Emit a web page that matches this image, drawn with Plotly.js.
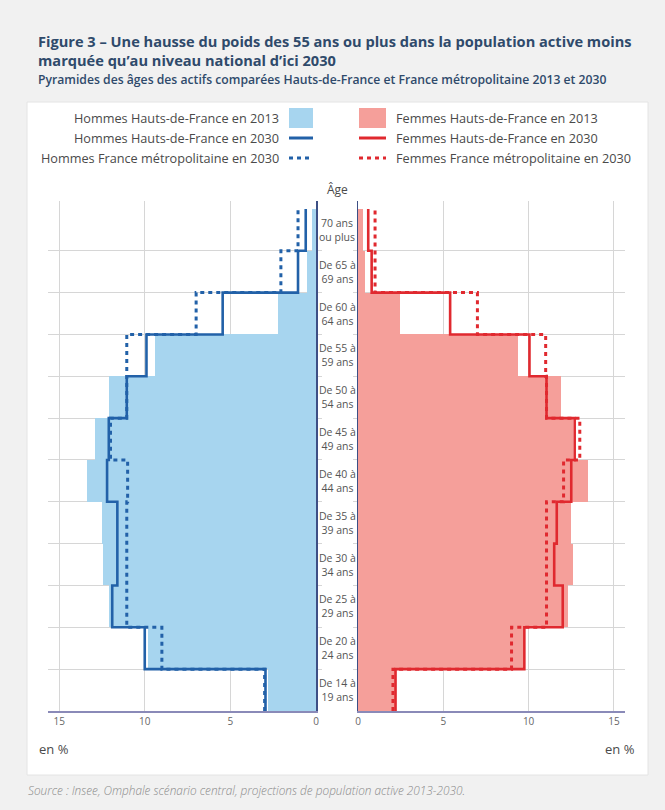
<!DOCTYPE html>
<html>
<head>
<meta charset="utf-8">
<script src="https://cdn.plot.ly/plotly-3.0.1.min.js"></script>
<style>html,body{margin:0;padding:0;background:#f1f1f1;}#chart{width:665px;height:810px;}</style>
</head>
<body>
<div id="chart"></div>
<script>
// Age groups, youngest (bottom) to oldest (top)
const categories = ["De 14 à<br>19 ans","De 20 à<br>24 ans","De 25 à<br>29 ans","De 30 à<br>34 ans","De 35 à<br>39 ans","De 40 à<br>44 ans","De 45 à<br>49 ans","De 50 à<br>54 ans","De 55 à<br>59 ans","De 60 à<br>64 ans","De 65 à<br>69 ans","70 ans<br>ou plus"];
// Values in % of the active population
const hommesHdF2013 = [2.8, 9.8, 12.1, 12.45, 12.5, 13.4, 12.9, 12.1, 9.4, 2.2, 0.5, 0.25];
const hommesHdF2030 = [2.95, 10.0, 11.9, 11.6, 11.6, 12.2, 12.1, 11.05, 9.9, 5.45, 1.05, 0.6];
const hommesFM2030  = [3.0, 9.0, 11.05, 11.05, 11.05, 11.0, 12.0, 11.05, 11.05, 7.0, 2.05, 1.05];
const femmesHdF2013 = [2.15, 9.7, 12.3, 12.6, 12.5, 13.5, 12.6, 11.9, 9.4, 2.45, 0.4, 0.3];
const femmesHdF2030 = [2.2, 9.75, 12.0, 11.5, 11.65, 12.5, 12.7, 11.05, 10.05, 5.4, 0.8, 0.6];
const femmesFM2030  = [2.05, 9.0, 11.05, 11.05, 11.05, 12.05, 13.0, 11.05, 11.0, 7.0, 1.0, 1.0];
const xTicks = [0, 5, 10, 15];
const legendHommes = ["Hommes Hauts-de-France en 2013","Hommes Hauts-de-France en 2030","Hommes France métropolitaine en 2030"];
const legendFemmes = ["Femmes Hauts-de-France en 2013","Femmes Hauts-de-France en 2030","Femmes France métropolitaine en 2030"];
const title = "Figure 3 – Une hausse du poids des 55 ans ou plus dans la population active moins<br>marquée qu’au niveau national d’ici 2030";
const subtitle = "Pyramides des âges des actifs comparées Hauts-de-France et France métropolitaine 2013 et 2030";
const source = "Source : Insee, Omphale scénario central, projections de population active 2013-2030.";

const W = 665, H = 810;
const fx = p => p / W;
const fy = p => 1 - p / H;

const BLUE_FILL = '#a7d5ef', BLUE = '#2261a8';
const PINK_FILL = '#f59f9a', RED = '#e0292f';
const TXT = '#4a4a4a';
const TITLE_C = '#2f4a6b';
const FONT = 'Open Sans, Noto Sans, sans-serif';

const idx = categories.map((c, i) => i);
function stepX(vals){ const out=[]; vals.forEach(v=>{out.push(v,v);}); return out; }
function stepY(n){ const out=[]; for(let i=0;i<n;i++){out.push(i-0.5,i+0.5);} return out; }

function bar(vals, color, xa, ya){
  return {type:'bar', orientation:'h', y:idx, x:vals, width:1, xaxis:xa, yaxis:ya,
    marker:{color:color, line:{width:0}}, hoverinfo:'skip', showlegend:false};
}
function step(vals, color, dash, xa, ya){
  return {type:'scatter', mode:'lines', x:stepX(vals), y:stepY(vals.length), xaxis:xa, yaxis:ya,
    line:{color:color, width:dash ? 3 : 2.6, dash:dash || 'solid'}, hoverinfo:'skip', showlegend:false};
}

const data = [
  bar(hommesHdF2013, BLUE_FILL, 'x', 'y'),
  bar(femmesHdF2013, PINK_FILL, 'x2', 'y2'),
  step(hommesHdF2030, BLUE, null, 'x', 'y'),
  step(hommesFM2030, BLUE, '4px,4px', 'x', 'y'),
  step(femmesHdF2030, RED, null, 'x2', 'y2'),
  step(femmesFM2030, RED, '4px,4px', 'x2', 'y2')
];

const gridVals = idx.slice(0, -1).map(i => i + 0.5);
const yRange = [-0.5, 11.69];
const yDomain = [fy(711), fy(201)];

const xCommon = {
  tickvals: xTicks, ticktext: xTicks.map(String), showgrid: true, gridcolor: '#d6d6d6', gridwidth: 1,
  zeroline: false, showline: true, linecolor: '#8a8ab8', linewidth: 2, ticks: '',
  tickfont: {family: FONT, size: 10, color: '#666'}, fixedrange: true
};
const yCommon = {
  range: yRange, domain: yDomain, tickvals: gridVals, showticklabels: false, showgrid: true,
  gridcolor: '#d6d6d6', gridwidth: 1, zeroline: false, showline: true, linecolor: '#3d4f85', linewidth: 1.5,
  ticks: 'outside', ticklen: 4, tickcolor: '#d6d6d6', fixedrange: true
};

const annotations = [];
// Titles
annotations.push({xref:'paper', yref:'paper', x:fx(36), y:fy(50), xanchor:'left', yanchor:'middle',
  showarrow:false, align:'left', text:title, font:{family:FONT, size:14.6, weight:700, color:TITLE_C}});
annotations.push({xref:'paper', yref:'paper', x:fx(36), y:fy(79), xanchor:'left', yanchor:'middle', showarrow:false, align:'left',
  text:subtitle, font:{family:FONT, size:12.2, weight:600, color:TITLE_C}});
// Legend text
const legY = [118, 138, 158];
legendHommes.forEach((t, k) => annotations.push({xref:'paper', yref:'paper', x:fx(281), y:fy(legY[k]), xanchor:'right', yanchor:'middle',
  showarrow:false, text:t, font:{family:FONT, size:12.7, color:TXT}}));
legendFemmes.forEach((t, k) => annotations.push({xref:'paper', yref:'paper', x:fx(394), y:fy(legY[k]), xanchor:'left', yanchor:'middle',
  showarrow:false, text:t, font:{family:FONT, size:12.7, color:TXT}}));
// Age header
annotations.push({xref:'paper', yref:'paper', x:fx(337), y:fy(189), xanchor:'center', yanchor:'middle', showarrow:false,
  text:'Âge', font:{family:FONT, size:12, color:TXT}});
// Category labels
categories.forEach((c, i) => annotations.push({xref:'paper', yref:'y', x:fx(337), y:i, xanchor:'center', yanchor:'middle',
  showarrow:false, align:'center', text:c, font:{family:FONT, size:10.5, color:'#555'}}));
// Units
annotations.push({xref:'paper', yref:'paper', x:fx(37), y:fy(749), xanchor:'left', yanchor:'middle', showarrow:false,
  text:'en %', font:{family:FONT, size:13, color:TXT}});
annotations.push({xref:'paper', yref:'paper', x:fx(637), y:fy(749), xanchor:'right', yanchor:'middle', showarrow:false,
  text:'en %', font:{family:FONT, size:13, color:TXT}});
// Source
annotations.push({xref:'paper', yref:'paper', x:fx(26), y:fy(790), xanchor:'left', yanchor:'middle', showarrow:false,
  text:source, font:{family:FONT, size:11.8, style:'italic', weight:300, color:'#8a8a8a'}});

const shapes = [
  {type:'rect', xref:'paper', yref:'paper', x0:fx(27), x1:fx(648), y0:fy(775), y1:fy(102), fillcolor:'#ffffff',
   line:{color:'#e4e4e4', width:1}, layer:'below'},
  // legend symbols
  {type:'rect', xref:'paper', yref:'paper', x0:fx(289), x1:fx(313), y0:fy(128), y1:fy(108), fillcolor:BLUE_FILL, line:{width:0}},
  {type:'line', xref:'paper', yref:'paper', x0:fx(289), x1:fx(313), y0:fy(138), y1:fy(138), line:{color:BLUE, width:3}},
  {type:'line', xref:'paper', yref:'paper', x0:fx(289), x1:fx(313), y0:fy(158), y1:fy(158), line:{color:BLUE, width:3, dash:'4px,4px'}},
  {type:'rect', xref:'paper', yref:'paper', x0:fx(359), x1:fx(386), y0:fy(128), y1:fy(108), fillcolor:PINK_FILL, line:{width:0}},
  {type:'line', xref:'paper', yref:'paper', x0:fx(359), x1:fx(386), y0:fy(138), y1:fy(138), line:{color:RED, width:3}},
  {type:'line', xref:'paper', yref:'paper', x0:fx(359), x1:fx(386), y0:fy(158), y1:fy(158), line:{color:RED, width:3, dash:'4px,4px'}}
];

const layout = {
  width: W, height: H, margin: {l:0, r:0, t:0, b:0, pad:0},
  paper_bgcolor: '#f1f1f1', plot_bgcolor: 'rgba(0,0,0,0)',
  showlegend: false, bargap: 0, barmode: 'overlay',
  xaxis: Object.assign({}, xCommon, {domain:[fx(48), fx(316)], range:[15.65, 0], anchor:'y'}),
  xaxis2: Object.assign({}, xCommon, {domain:[fx(358), fx(625)], range:[0, 15.65], anchor:'y2'}),
  yaxis: Object.assign({}, yCommon, {anchor:'x', side:'right'}),
  yaxis2: Object.assign({}, yCommon, {anchor:'x2', side:'left', matches:'y'}),
  annotations: annotations, shapes: shapes
};

Plotly.newPlot('chart', data, layout, {displayModeBar:false, staticPlot:true});
</script>
</body>
</html>
